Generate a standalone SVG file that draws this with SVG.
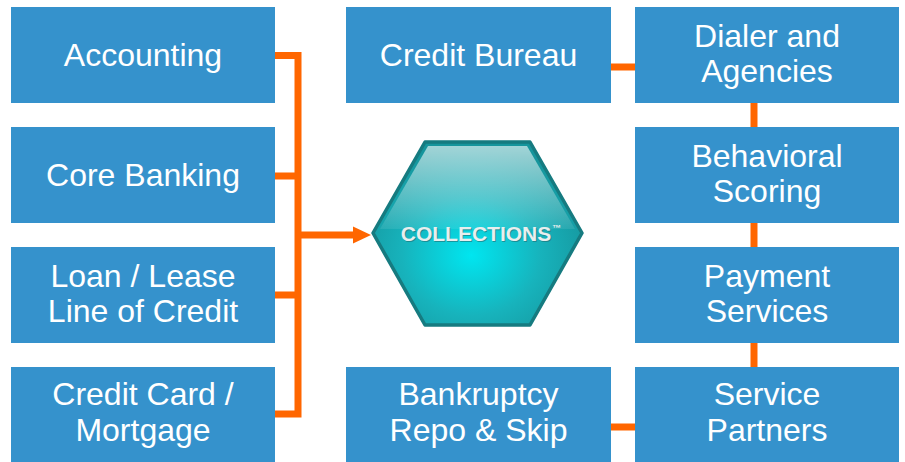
<svg xmlns="http://www.w3.org/2000/svg" width="905" height="462" viewBox="0 0 905 462">
<defs>
<style>
.box{fill:#3592CC}
.t{font-family:"Liberation Sans",Arial,sans-serif;font-size:32px;fill:#ffffff;text-anchor:middle}
.c{fill:none;stroke:#FF6600;stroke-width:7;stroke-linejoin:miter}
.h{font-family:"Liberation Sans",Arial,sans-serif;font-weight:bold}
</style>
<radialGradient id="hexg" cx="0.47" cy="0.62" r="0.6">
<stop offset="0" stop-color="#00E6F0"/>
<stop offset="0.55" stop-color="#17B3BC"/>
<stop offset="1" stop-color="#16959C"/>
</radialGradient>
<linearGradient id="gloss" x1="0" y1="0" x2="0" y2="1">
<stop offset="0" stop-color="#FFFFFF" stop-opacity="0.6"/>
<stop offset="1" stop-color="#FFFFFF" stop-opacity="0.08"/>
</linearGradient>
</defs>
<rect width="905" height="462" fill="#ffffff"/>
<g id="connectors">
<path class="c" d="M275 55.5H298V414H275"/>
<path class="c" d="M275 176H298M275 295H298M298 235H355"/>
<polygon points="353,226.5 371,235 353,243.5" fill="#FF6600"/>
<path class="c" d="M611 67H635M611 427H635"/>
<path class="c" d="M754 103V127M754 223V247M754 343V367"/>
</g>
<g id="accounting"><rect class="box" x="11" y="7" width="264" height="96"/><text class="t" x="143" y="66">Accounting</text></g>
<g id="core-banking"><rect class="box" x="11" y="127" width="264" height="96"/><text class="t" x="143" y="186">Core Banking</text></g>
<g id="loan-lease"><rect class="box" x="11" y="247" width="264" height="96"/><text class="t" x="143" y="287">Loan / Lease</text><text class="t" x="143" y="322">Line of Credit</text></g>
<g id="credit-card"><rect class="box" x="11" y="367" width="264" height="96"/><text class="t" x="143" y="405">Credit Card /</text><text class="t" x="143" y="441">Mortgage</text></g>
<g id="credit-bureau"><rect class="box" x="346" y="7" width="265" height="96"/><text class="t" x="478.5" y="66">Credit Bureau</text></g>
<g id="bankruptcy"><rect class="box" x="346" y="367" width="265" height="96"/><text class="t" x="478.5" y="405">Bankruptcy</text><text class="t" x="478.5" y="441">Repo &amp; Skip</text></g>
<g id="dialer"><rect class="box" x="635" y="7" width="264" height="96"/><text class="t" x="767" y="47">Dialer and</text><text class="t" x="767" y="82">Agencies</text></g>
<g id="behavioral"><rect class="box" x="635" y="127" width="264" height="96"/><text class="t" x="767" y="167">Behavioral</text><text class="t" x="767" y="202">Scoring</text></g>
<g id="payment"><rect class="box" x="635" y="247" width="264" height="96"/><text class="t" x="767" y="287">Payment</text><text class="t" x="767" y="322">Services</text></g>
<g id="service-partners"><rect class="box" x="635" y="367" width="264" height="96"/><text class="t" x="767" y="405">Service</text><text class="t" x="767" y="441">Partners</text></g>
<g id="collections">
<polygon points="373,233 425,142 530,142 582,233 530,325 425,325" fill="url(#hexg)" stroke="#167B80" stroke-width="3.5" stroke-linejoin="round"/>
<polygon points="380,229 428,146 527,146 575,229" fill="url(#gloss)"/>
<text class="h" x="477" y="242" font-size="21" fill="#1F6F73" text-anchor="middle" opacity="0.6">COLLECTIONS</text>
<text class="h" x="476" y="241" font-size="21" fill="#E8EEEE" text-anchor="middle">COLLECTIONS</text>
<text class="h" x="552" y="231" font-size="9" fill="#E8EEEE">™</text>
</g>
</svg>
